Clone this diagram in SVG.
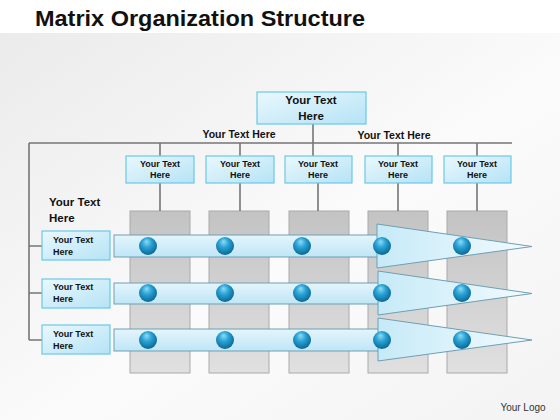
<svg xmlns="http://www.w3.org/2000/svg" width="560" height="420" viewBox="0 0 560 420">
<defs>
  <linearGradient id="bg" x1="0" y1="0" x2="1" y2="1">
    <stop offset="0" stop-color="#ebebeb"/>
    <stop offset="0.55" stop-color="#fbfbfb"/>
    <stop offset="1" stop-color="#f3f3f3"/>
  </linearGradient>
  <linearGradient id="box" x1="0" y1="0" x2="1" y2="1">
    <stop offset="0" stop-color="#eaf8fd"/>
    <stop offset="1" stop-color="#b5e3f6"/>
  </linearGradient>
  <linearGradient id="col" x1="0" y1="0" x2="0" y2="1">
    <stop offset="0" stop-color="#c3c3c3"/>
    <stop offset="1" stop-color="#e0e0e0"/>
  </linearGradient>
  <linearGradient id="bar" x1="0" y1="0" x2="0" y2="1">
    <stop offset="0" stop-color="#e4f5fc"/>
    <stop offset="1" stop-color="#bfe6f6"/>
  </linearGradient>
  <linearGradient id="head" x1="0" y1="0" x2="1" y2="0">
    <stop offset="0" stop-color="#c6eaf8"/>
    <stop offset="1" stop-color="#f2fbfe"/>
  </linearGradient>
  <radialGradient id="ball" cx="0.45" cy="0.4" r="0.6" fx="0.42" fy="0.25">
    <stop offset="0" stop-color="#8fdcf7"/>
    <stop offset="0.45" stop-color="#2aa3d6"/>
    <stop offset="1" stop-color="#0b6895"/>
  </radialGradient>
</defs>
<style>
  .t{font-family:"Liberation Sans",Arial,sans-serif;font-weight:bold;fill:#111;}
  .box{fill:url(#box);stroke:#6cc8e8;stroke-width:1.2;}
  .ln{stroke:#767676;stroke-width:1.6;fill:none;}
  .colr{fill:url(#col);stroke:#aaaaaa;stroke-width:1;}
  .bar{fill:url(#bar);stroke:#6f9fb3;stroke-width:1;}
  .head{fill:url(#head);stroke:#6f9fb3;stroke-width:1;}
  .s9{font-size:9px;}
  .s10{font-size:10.5px;}
  .s11{font-size:11.5px;}
</style>
<rect x="0" y="0" width="560" height="420" fill="#ffffff"/>
<rect x="0" y="33" width="560" height="387" fill="url(#bg)"/>
<text x="35" y="26" class="t" style="font-size:22px" textLength="330" lengthAdjust="spacingAndGlyphs">Matrix Organization Structure</text>

<g id="columns-bg">
  <rect class="colr" x="130" y="211" width="60" height="162"/>
  <rect class="colr" x="209" y="211" width="60" height="162"/>
  <rect class="colr" x="289" y="211" width="60" height="162"/>
  <rect class="colr" x="368" y="211" width="60" height="162"/>
  <rect class="colr" x="447" y="211" width="60" height="162"/>
</g>

<g id="connectors">
  <path class="ln" d="M313 124 V156 M29 143 H512 M29 143 V340 M29 246 H42 M29 293 H42 M29 340 H42"/>
  <path class="ln" d="M160 143 V156 M240 143 V156 M398 143 V156 M477 143 V156"/>
  <path class="ln" d="M160 183 V211 M240 183 V211 M318 183 V211 M398 183 V211 M477 183 V211"/>
</g>

<g id="top">
  <rect class="box" x="257" y="92" width="109" height="32"/>
  <text class="t s11" x="311" y="104" text-anchor="middle">Your Text</text>
  <text class="t s11" x="311" y="120" text-anchor="middle">Here</text>
</g>
<g id="label-left"><text class="t s10" x="239" y="138" text-anchor="middle">Your Text Here</text></g>
<g id="label-right"><text class="t s10" x="394" y="139" text-anchor="middle">Your Text Here</text></g>
<g id="label-rows">
  <text class="t s11" x="49" y="206">Your Text</text>
  <text class="t s11" x="49" y="222">Here</text>
</g>

<g id="col1"><rect class="box" x="126" y="156" width="68" height="27"/><text class="t s9" x="160" y="167" text-anchor="middle">Your Text</text><text class="t s9" x="160" y="178" text-anchor="middle">Here</text></g>
<g id="col2"><rect class="box" x="206" y="156" width="68" height="27"/><text class="t s9" x="240" y="167" text-anchor="middle">Your Text</text><text class="t s9" x="240" y="178" text-anchor="middle">Here</text></g>
<g id="col3"><rect class="box" x="285" y="156" width="67" height="27"/><text class="t s9" x="318" y="167" text-anchor="middle">Your Text</text><text class="t s9" x="318" y="178" text-anchor="middle">Here</text></g>
<g id="col4"><rect class="box" x="365" y="156" width="67" height="27"/><text class="t s9" x="398" y="167" text-anchor="middle">Your Text</text><text class="t s9" x="398" y="178" text-anchor="middle">Here</text></g>
<g id="col5"><rect class="box" x="444" y="156" width="67" height="27"/><text class="t s9" x="477" y="167" text-anchor="middle">Your Text</text><text class="t s9" x="477" y="178" text-anchor="middle">Here</text></g>

<g id="row1"><rect class="box" x="42" y="231" width="68" height="29"/><text class="t s9" x="53" y="243">Your Text</text><text class="t s9" x="53" y="255">Here</text></g>
<g id="row2"><rect class="box" x="42" y="279" width="68" height="29"/><text class="t s9" x="53" y="290">Your Text</text><text class="t s9" x="53" y="302">Here</text></g>
<g id="row3"><rect class="box" x="42" y="325" width="68" height="29"/><text class="t s9" x="53" y="337">Your Text</text><text class="t s9" x="53" y="349">Here</text></g>

<g id="arrow1">
  <rect class="bar" x="114" y="235" width="266" height="22"/>
  <polygon class="head" points="377,224 532,246.5 377,268"/>
</g>
<g id="arrow2">
  <rect class="bar" x="114" y="283" width="266" height="21"/>
  <polygon class="head" points="378,271 532,293.5 378,315"/>
</g>
<g id="arrow3">
  <rect class="bar" x="114" y="329" width="266" height="22"/>
  <polygon class="head" points="378,318 532,340 378,361"/>
</g>

<g id="spheres">
  <circle cx="148" cy="246" r="9" fill="url(#ball)"/>
  <circle cx="225" cy="246" r="9" fill="url(#ball)"/>
  <circle cx="302" cy="246" r="9" fill="url(#ball)"/>
  <circle cx="382" cy="246" r="9" fill="url(#ball)"/>
  <circle cx="462" cy="246" r="9" fill="url(#ball)"/>
  <circle cx="148" cy="293" r="9" fill="url(#ball)"/>
  <circle cx="225" cy="293" r="9" fill="url(#ball)"/>
  <circle cx="302" cy="293" r="9" fill="url(#ball)"/>
  <circle cx="382" cy="293" r="9" fill="url(#ball)"/>
  <circle cx="462" cy="293" r="9" fill="url(#ball)"/>
  <circle cx="148" cy="340" r="9" fill="url(#ball)"/>
  <circle cx="225" cy="340" r="9" fill="url(#ball)"/>
  <circle cx="302" cy="340" r="9" fill="url(#ball)"/>
  <circle cx="382" cy="340" r="9" fill="url(#ball)"/>
  <circle cx="462" cy="340" r="9" fill="url(#ball)"/>
</g>

<text x="523" y="411" text-anchor="middle" style="font-family:'Liberation Sans',Arial,sans-serif;font-size:10px;fill:#333">Your Logo</text>
</svg>
